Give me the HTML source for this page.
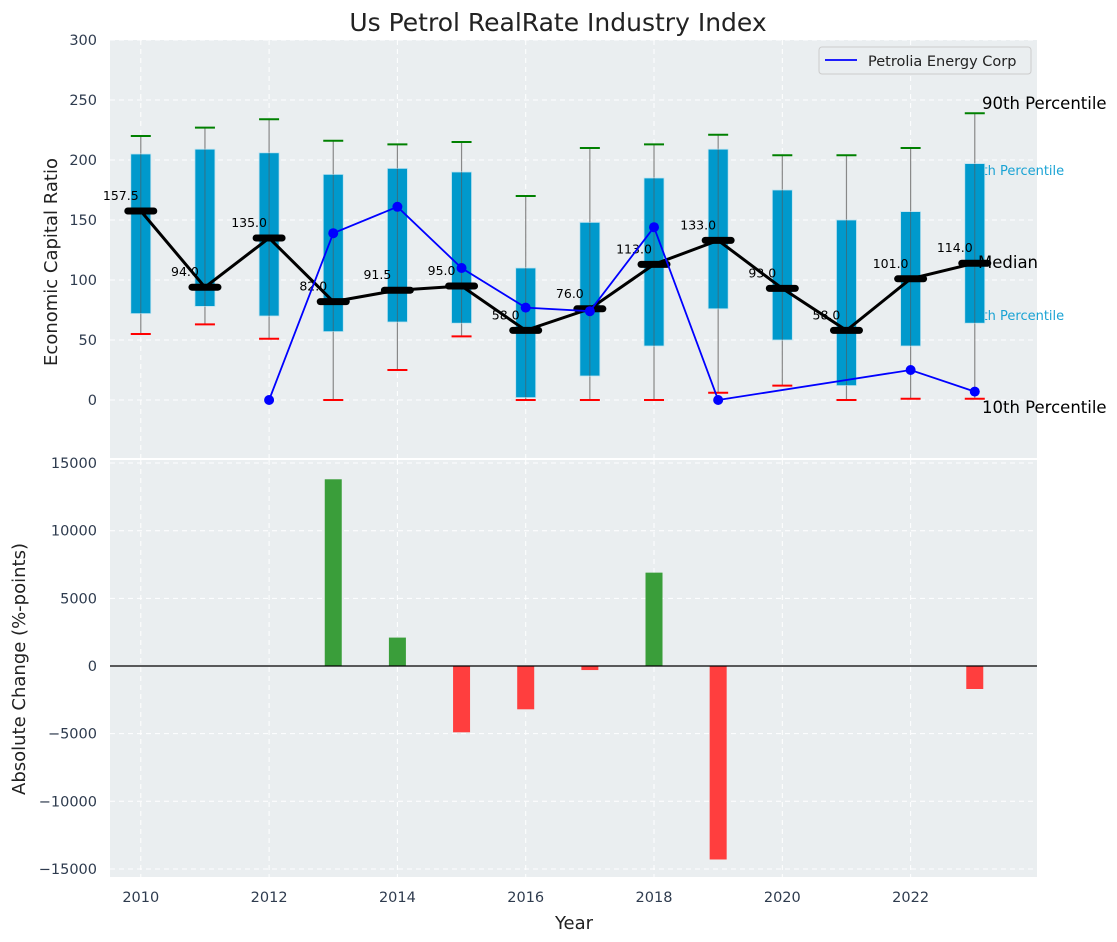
<!DOCTYPE html>
<html><head><meta charset="utf-8"><style>
body{margin:0;background:#fff;}
svg{display:block;font-family:"DejaVu Sans","Liberation Sans",sans-serif;}
</style></head><body>
<svg id="c" width="1117" height="942" viewBox="0 0 1117 942"></svg>
<script>
const years=[2010,2011,2012,2013,2014,2015,2016,2017,2018,2019,2020,2021,2022,2023];
const q1=[72,78,70,57,65,64,2,20,45,76,50,12,45,64];
const q3=[205,209,206,188,193,190,110,148,185,209,175,150,157,197];
const p10=[55,63,51,0,25,53,0,0,0,6,12,0,1,1];
const p90=[220,227,234,216,213,215,170,210,213,221,204,204,210,239];
const medians=[157.5,94,135,82,91.5,95,58,76,113,133,93,58,101,114];
const compYears=[2012,2013,2014,2015,2016,2017,2018,2019,2022,2023];
const compVals=[0,139,161,110,77,74,144,0,25,7];
const barYears=[2013,2014,2015,2016,2017,2018,2019,2023];
const barVals=[13800,2100,-4900,-3200,-300,6900,-14300,-1700];
const topTicks=[0,50,100,150,200,250,300];
const botTicks=[-15000,-10000,-5000,0,5000,10000,15000];
const xTicks=[2010,2012,2014,2016,2018,2020,2022];

const NS="http://www.w3.org/2000/svg";
const svg=document.getElementById('c');
function mk(tag,attrs,parent,text){const e=document.createElementNS(NS,tag);for(const k in attrs)e.setAttribute(k,attrs[k]);if(text!==undefined)e.textContent=text;(parent||svg).appendChild(e);return e;}
const L=110,R=1037;
const x=v=>L+(v-2009.52)*(R-L)/(2023.97-2009.52);
const yT=v=>400-v*1.2;
const yB=v=>666-v*0.01353;

let e;
e=mk('rect',{x:L,y:40,width:R-L,height:418,fill:'#eaeef0'});


e=mk('rect',{x:L,y:460,width:R-L,height:417,fill:'#eaeef0'});


xTicks.forEach(t=>{
 mk('line',{x1:x(t),x2:x(t),y1:40,y2:458,stroke:'#fff','stroke-dasharray':'5,4','stroke-width':1});
 mk('line',{x1:x(t),x2:x(t),y1:460,y2:877,stroke:'#fff','stroke-dasharray':'5,4','stroke-width':1});
});
topTicks.forEach(t=>{
 mk('line',{x1:L,x2:R,y1:yT(t),y2:yT(t),stroke:'#fff','stroke-dasharray':'5,4'});
 e=mk('text',{x:L-13,y:yT(t)+5,'text-anchor':'end','font-size':14.5,fill:'#2e3b4e'},svg,String(t));
 
 
});
botTicks.forEach(t=>{
 mk('line',{x1:L,x2:R,y1:yB(t),y2:yB(t),stroke:'#fff','stroke-dasharray':'5,4'});
 e=mk('text',{x:L-13,y:yB(t)+5,'text-anchor':'end','font-size':14.5,fill:'#2e3b4e'},svg,t<0?'\u2212'+(-t):String(t));
 
 
});
xTicks.forEach(t=>{
 e=mk('text',{x:x(t),y:902,'text-anchor':'middle','font-size':14.5,fill:'#2e3b4e'},svg,String(t));
 
 
});
e=mk('text',{x:966,y:175,'font-size':13,fill:'#1aa3d4'},svg,'75th Percentile');


e=mk('text',{x:966,y:320,'font-size':13,fill:'#1aa3d4'},svg,'25th Percentile');


years.forEach((yr,i)=>{
 const cx=x(yr);
 e=mk('line',{x1:cx,x2:cx,y1:yT(p90[i]),y2:yT(p10[i]),stroke:'#888','stroke-width':1.2});
 
 
 e=mk('rect',{x:cx-10,y:yT(q3[i]),width:20,height:yT(q1[i])-yT(q3[i]),fill:'#0099cc',stroke:'#bfe3f0','stroke-width':0.8});
 
 
 mk('line',{x1:cx,x2:cx,y1:yT(q3[i]),y2:yT(q1[i]),stroke:'#555','stroke-width':1,opacity:0.6});
 e=mk('line',{x1:cx-10,x2:cx+10,y1:yT(p90[i]),y2:yT(p90[i]),stroke:'green','stroke-width':2});
 
 
 e=mk('line',{x1:cx-10,x2:cx+10,y1:yT(p10[i]),y2:yT(p10[i]),stroke:'red','stroke-width':2});
 
 
});
e=mk('polyline',{points:years.map((yr,i)=>x(yr)+','+yT(medians[i])).join(' '),fill:'none',stroke:'#000','stroke-width':3});


years.forEach((yr,i)=>{
 e=mk('line',{x1:x(yr)-13,x2:x(yr)+13,y1:yT(medians[i]),y2:yT(medians[i]),stroke:'#000','stroke-width':7,'stroke-linecap':'round'});
 
 
 e=mk('text',{x:x(yr)-20,y:yT(medians[i])-11,'text-anchor':'middle','font-size':12.5,fill:'#000'},svg,medians[i].toFixed(1));
 
 
});
e=mk('polyline',{points:compYears.map((yr,i)=>x(yr)+','+yT(compVals[i])).join(' '),fill:'none',stroke:'blue','stroke-width':1.8});


compYears.forEach((yr,i)=>{
 e=mk('circle',{cx:x(yr),cy:yT(compVals[i]),r:5,fill:'blue'});
 
 
});
[['90th Percentile',109,'p90-annotation'],['Median',268,'median-annotation'],['10th Percentile',413,'p10-annotation']].forEach(a=>{
 e=mk('text',{x:a[0]==='Median'?978:982,y:a[1],'font-size':16.5,fill:'#000'},svg,a[0]);
 
 
});
e=mk('g',{});


mk('rect',{x:819,y:47,width:212,height:27,rx:3,fill:'#eaeef0',stroke:'#ccc'},e);
mk('line',{x1:825,x2:857,y1:60,y2:60,stroke:'blue','stroke-width':1.8},e);
mk('text',{x:868,y:66,'font-size':14.5,fill:'#222'},e,'Petrolia Energy Corp');
barYears.forEach((yr,i)=>{
 const v=barVals[i];
 e=mk('rect',{x:x(yr)-8.5,y:Math.min(yB(v),yB(0)),width:17,height:Math.abs(yB(v)-yB(0)),fill:v>=0?'#3a9e3a':'#ff3e3e'});
 
 
});
mk('line',{x1:L,x2:R,y1:yB(0),y2:yB(0),stroke:'#000','stroke-width':1.2});
e=mk('text',{x:558,y:31,'text-anchor':'middle','font-size':25,fill:'#222'},svg,'Us Petrol RealRate Industry Index');


e=mk('text',{x:57,y:262,'text-anchor':'middle','font-size':18,fill:'#222',transform:'rotate(-90 57 262)'},svg,'Economic Capital Ratio');


e=mk('text',{x:25,y:669,'text-anchor':'middle','font-size':18,fill:'#222',transform:'rotate(-90 25 669)'},svg,'Absolute Change (%-points)');


e=mk('text',{x:574,y:929,'text-anchor':'middle','font-size':18,fill:'#222'},svg,'Year');


</script>
</body></html>
